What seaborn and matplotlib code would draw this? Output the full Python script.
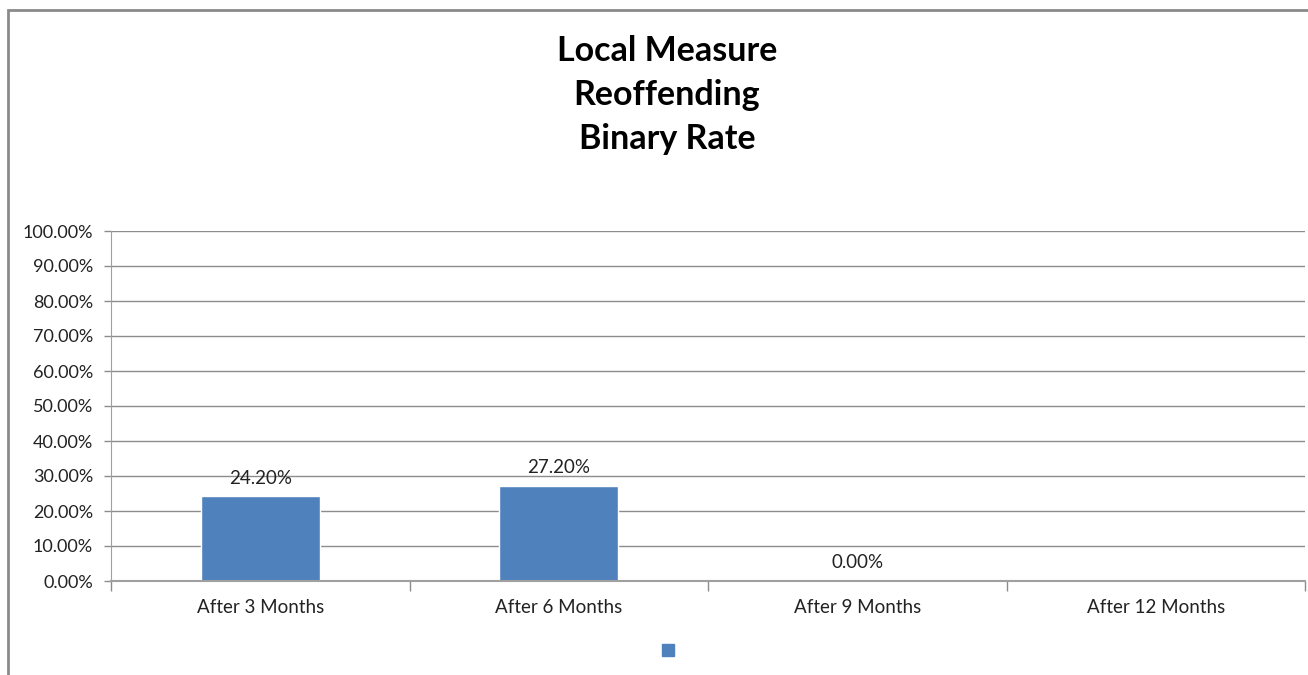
import numpy as np
import pandas as pd
import matplotlib.pyplot as plt
import matplotlib.patches as mpatches
import seaborn as sns

# chart data
categories = ['After 3 Months', 'After 6 Months', 'After 9 Months', 'After 12 Months']
rates = [24.2, 27.2, 0.0, np.nan]   # 12 months has no value yet
title_lines = ['Local Measure', 'Reoffending', 'Binary Rate']
y_ticks = np.arange(0, 101, 10)

BAR_BLUE = '#4F81BD'
GRID_GREY = '#8C8C8C'

sns.set_style('white')
plt.rcParams['font.family'] = ['Lato', 'DejaVu Sans']

df = pd.DataFrame({'period': categories, 'rate': rates})

fig = plt.figure(figsize=(13.08, 6.75), dpi=100)
ax = fig.add_axes([111 / 1308, 1 - 581 / 675, (1305 - 111) / 1308, 350 / 675])

sns.barplot(data=df, x='period', y='rate', color=BAR_BLUE, width=0.4,
            saturation=1, ax=ax, order=categories)

# data labels (skip the missing one)
for i, v in enumerate(rates):
    if np.isnan(v):
        continue
    ax.annotate(f'{v:.2f}%', (i, v), xytext=(0, 7), textcoords='offset points',
                ha='center', va='bottom', fontsize=13.5, color='#222222')

ax.set_ylim(0, 100)
ax.set_xlim(-0.5, len(categories) - 0.5)
ax.set_yticks(y_ticks)
ax.set_yticklabels([f'{t:.2f}%' for t in y_ticks], fontsize=13, color='#222222')
ax.set_xlabel('')
ax.set_ylabel('')

# category labels without ticks, boundary ticks as minor ticks
ax.tick_params(axis='x', which='major', length=0, pad=13, labelsize=13.5, labelcolor='#222222')
ax.set_xticks(np.arange(-0.5, len(categories)), minor=True)
ax.tick_params(axis='x', which='minor', length=7, width=1, color=GRID_GREY, direction='out', bottom=True)
ax.tick_params(axis='y', which='major', length=5, width=1, color=GRID_GREY, direction='out', pad=8, left=True)

ax.yaxis.grid(True, color=GRID_GREY, linewidth=1)
ax.set_axisbelow(True)
for side in ['top', 'right']:
    ax.spines[side].set_visible(False)
ax.spines['left'].set_color('#A0A0A0')
ax.spines['bottom'].set_color('#A0A0A0')
ax.spines['bottom'].set_linewidth(1.5)

fig.text(667 / 1308, 1 - 95 / 675, '\n'.join(title_lines), ha='center', va='center',
         fontsize=24.5, fontweight='bold', linespacing=1.45, color='black')

# legend: single swatch, no label
handle = mpatches.Patch(color=BAR_BLUE, label=' ')
fig.legend(handles=[handle], loc='center', bbox_to_anchor=(672 / 1308, 1 - 651 / 675),
           frameon=False, handlelength=0.7, handleheight=0.7, handletextpad=0.2, fontsize=12)

# outer chart frame (only left and top visible in the reference)
frame = mpatches.Rectangle((8 / 1308, -0.2), 1.2, 1 - 10 / 675 + 0.2, transform=fig.transFigure,
                           fill=False, edgecolor='#8A8A8A', linewidth=2, zorder=10)
fig.patches.append(frame)

fig.savefig('out.png', dpi=100)
